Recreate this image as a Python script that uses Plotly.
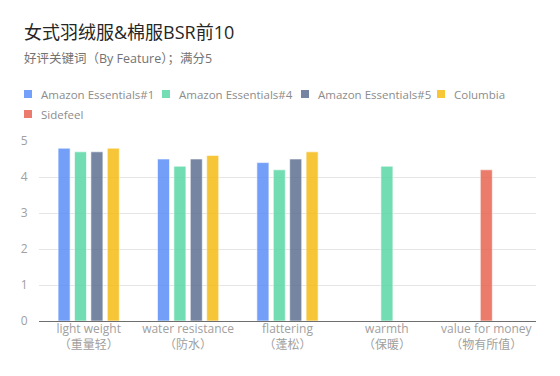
import plotly.graph_objects as go

categories = ["light weight<br>（重量轻）", "water resistance<br>（防水）", "flattering<br>（蓬松）",
              "warmth<br>（保暖）", "value for money<br>（物有所值）"]
series_names = ["Amazon Essentials#1", "Amazon Essentials#4", "Amazon Essentials#5", "Columbia", "Sidefeel"]
ae1 = [4.8, 4.5, 4.4, None, None]
ae4 = [4.7, 4.3, 4.2, 4.3, None]
ae5 = [4.7, 4.5, 4.5, None, None]
columbia = [4.8, 4.6, 4.7, None, None]
sidefeel = [None, None, None, None, 4.2]
series_values = [ae1, ae4, ae5, columbia, sidefeel]
colors = ["#5B8FF9", "#5AD8A6", "#5D7092", "#F6BD16", "#E86452"]
y_ticks = [0, 1, 2, 3, 4, 5]

FONT = "Open Sans, Noto Sans CJK SC, sans-serif"
W, H = 560, 376
ML, MR, MT, MB = 39, 24, 141, 55
PW, PH = W - ML - MR, H - MT - MB
bar_w = 0.121
pitch = 0.165


def px_x(x):
    return (x - ML) / PW


def px_y(y):
    return (H - MB - y) / PH


# compute per-category offsets so that only present bars are grouped
present = [[s for s in range(len(series_values)) if series_values[s][c] is not None]
           for c in range(len(categories))]

fig = go.Figure()
for s, (name, vals, col) in enumerate(zip(series_names, series_values, colors)):
    offsets = []
    for c in range(len(categories)):
        if s in present[c]:
            n = len(present[c])
            k = present[c].index(s)
            start = -(n * pitch - (pitch - bar_w)) / 2
            offsets.append(start + k * pitch)
        else:
            offsets.append(0)
    fig.add_trace(go.Bar(
        x=list(range(len(categories))), y=vals, name=name,
        width=bar_w, offset=offsets,
        marker=dict(color=col, opacity=0.85, line=dict(color="rgba(255,255,255,0.6)", width=1)),
        showlegend=False,
    ))

# custom legend (positions in pixels)
legend_pos = [(24, 94), (162, 94), (301, 94), (437, 94), (24, 114)]
shapes = []
annotations = []
for (lx, ly), name, col in zip(legend_pos, series_names, colors):
    shapes.append(dict(type="rect", xref="paper", yref="paper",
                       x0=px_x(lx), x1=px_x(lx + 8), y0=px_y(ly - 4), y1=px_y(ly + 4),
                       fillcolor=col, opacity=0.85, line=dict(width=0)))
    annotations.append(dict(text=name, xref="paper", yref="paper", x=px_x(lx + 15), y=px_y(ly),
                            xanchor="left", yanchor="middle", showarrow=False,
                            font=dict(size=11.5, color="#8c8c8c", family=FONT)))

annotations.append(dict(text="女式羽绒服&棉服BSR前10", xref="paper", yref="paper",
                        x=px_x(22), y=px_y(32), xanchor="left", yanchor="middle", showarrow=False,
                        font=dict(size=18, color="#262626", family=FONT)))
annotations.append(dict(text="好评关键词（By Feature）；满分5", xref="paper", yref="paper",
                        x=px_x(22), y=px_y(58), xanchor="left", yanchor="middle", showarrow=False,
                        font=dict(size=12.5, color="#737373", family=FONT)))

fig.update_layout(
    width=W, height=H,
    barmode="overlay",
    paper_bgcolor="white", plot_bgcolor="white",
    margin=dict(l=ML, r=MR, t=MT, b=MB, autoexpand=False),
    font=dict(family=FONT, size=12, color="#8c8c8c"),
    showlegend=False,
    xaxis=dict(range=[-0.5, len(categories) - 0.5], tickmode="array",
               tickvals=list(range(len(categories))), ticktext=categories,
               showgrid=False, zeroline=False, showline=True, linecolor="#6e6e6e", linewidth=1,
               ticks="", ticklabelstandoff=-3,
               tickfont=dict(size=12, color="#a0a0a0", family=FONT), fixedrange=True),
    yaxis=dict(range=[0, 5], tickvals=y_ticks, showgrid=True, gridcolor="#e5e5e5", gridwidth=1,
               zeroline=False, showline=False, ticks="outside", ticklen=8, tickcolor="rgba(0,0,0,0)",
               tickfont=dict(size=12, color="#a0a0a0", family=FONT), fixedrange=True),
    shapes=shapes,
    annotations=annotations,
)

fig.write_html("out.html", config={"displayModeBar": False},
               post_script="document.body.style.margin='0';")
